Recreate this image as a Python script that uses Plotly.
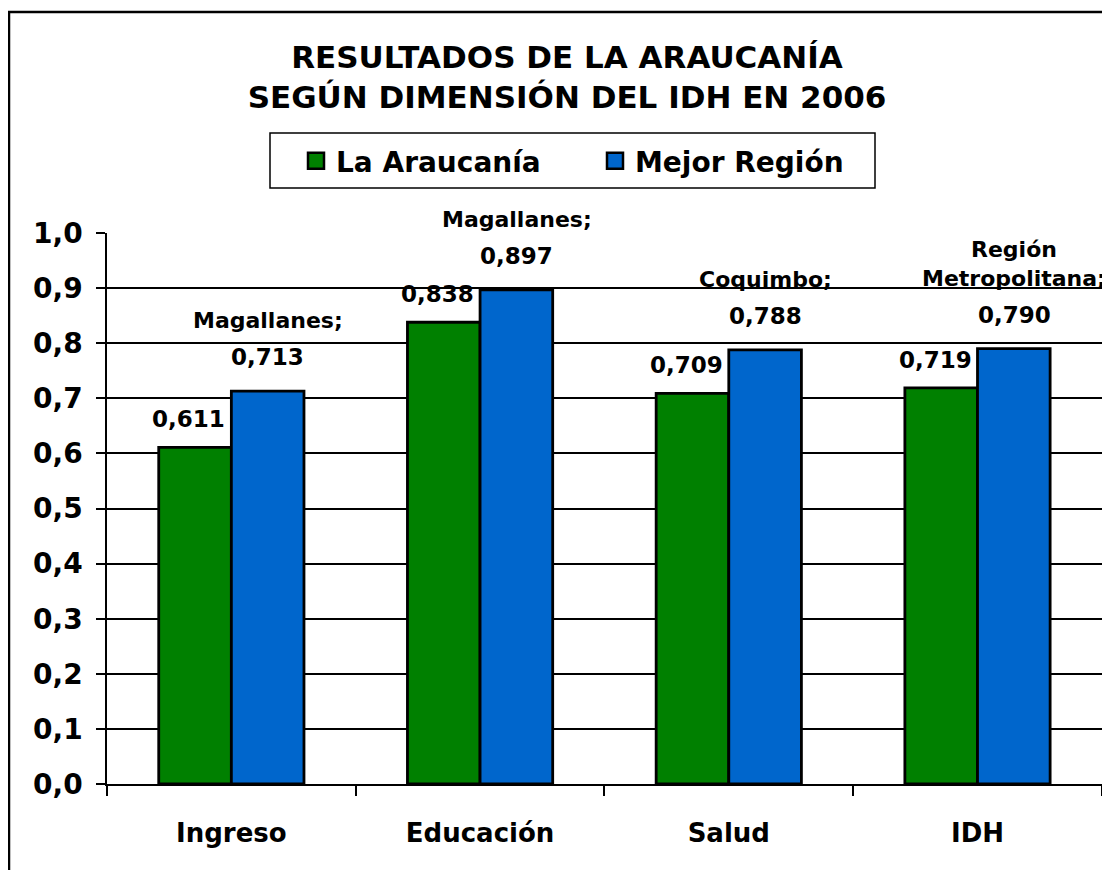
import plotly.graph_objects as go

categories = ["Ingreso", "Educación", "Salud", "IDH"]
araucania = [0.611, 0.838, 0.709, 0.719]
mejor = [0.713, 0.897, 0.788, 0.790]
mejor_nombre = ["Magallanes;", "Magallanes;", "Coquimbo;", "Región<br>Metropolitana;"]
y_ticks = [0.0, 0.1, 0.2, 0.3, 0.4, 0.5, 0.6, 0.7, 0.8, 0.9, 1.0]
y_ticklabels = ["0,0", "0,1", "0,2", "0,3", "0,4", "0,5", "0,6", "0,7", "0,8", "0,9", "1,0"]
series_names = ["La Araucanía", "Mejor Región"]

GREEN = "#008000"
BLUE = "#0066CC"
FONT = "DejaVu Sans"

W, H = 1102, 862
L, R, T, B = 99, 2, 225, 86
PW, PH = W - L - R, H - T - B

def px(xp):
    return (xp - L) / PW

def py(yp):
    return 1 + (T - yp) / PH

def fmt(v):
    return f"{v:.3f}".replace(".", ",")

fig = go.Figure()
for name, vals, col in [(series_names[0], araucania, GREEN), (series_names[1], mejor, BLUE)]:
    fig.add_trace(go.Bar(
        x=categories, y=vals, name=name, showlegend=False,
        marker=dict(color=col, line=dict(color="black", width=2.8)),
    ))
    fig.add_trace(go.Scatter(
        x=[None], y=[None], mode="markers", name=name,
        marker=dict(symbol="square", size=16, color=col, line=dict(color="black", width=2.5)),
    ))

lab_font = dict(family=FONT, size=23, color="black", weight="bold")
name_font = dict(family=FONT, size=22, color="black", weight="bold")
annotations = []
for c, v in zip(categories, araucania):
    annotations.append(dict(x=c, y=v, xref="x", yref="y", text=fmt(v), showarrow=False,
                            xshift=-42.5, yshift=28, yanchor="middle", font=lab_font))
for c, v, n in zip(categories, mejor, mejor_nombre):
    annotations.append(dict(x=c, y=v, xref="x", yref="y", text=fmt(v), showarrow=False,
                            xshift=36.5, yshift=34, yanchor="middle", font=lab_font))
    annotations.append(dict(x=c, y=v, xref="x", yref="y", text=n, showarrow=False,
                            xshift=36.5, yshift=56, yanchor="bottom", font=name_font))

fig.update_layout(
    width=W, height=H,
    margin=dict(l=L, r=R, t=T, b=B, autoexpand=False),
    paper_bgcolor="white", plot_bgcolor="white",
    barmode="group", bargap=0.416, bargroupgap=0.0,
    title=dict(text="RESULTADOS DE LA ARAUCANÍA<br>SEGÚN DIMENSIÓN DEL IDH EN 2006",
               x=559 / W, xanchor="center", xref="container",
               y=1 - 60 / H, yanchor="top", yref="container",
               font=dict(family=FONT, size=31, color="black", weight="bold")),
    legend=dict(orientation="h", x=px(288), xanchor="left",
                y=py(128), yanchor="top",
                borderwidth=0, bgcolor="rgba(0,0,0,0)",
                entrywidth=254, entrywidthmode="pixels",
                font=dict(family=FONT, size=28, color="black", weight="bold"),
                itemclick=False),
    xaxis=dict(type="category", showline=True, linecolor="black", linewidth=1.5,
               ticks="outside", tickson="boundaries", ticklen=10, tickcolor="black", tickwidth=1.5,
               showgrid=False, ticklabelstandoff=25,
               tickfont=dict(family=FONT, size=26, color="black", weight="bold")),
    yaxis=dict(range=[0, 1], tickvals=y_ticks, ticktext=y_ticklabels,
               showline=True, linecolor="black", linewidth=1.5, mirror=True,
               ticks="outside", ticklen=9, tickcolor="black", tickwidth=1.5,
               showgrid=True, gridcolor="black", gridwidth=1.5, zeroline=False,
               ticklabelstandoff=8,
               tickfont=dict(family=FONT, size=28, color="black", weight="bold")),
    annotations=annotations,
    shapes=[
        dict(type="rect", xref="paper", yref="paper",
             x0=px(1), x1=1.1, y0=-0.3, y1=py(4),
             line=dict(color="black", width=2.5), fillcolor="rgba(0,0,0,0)", layer="below"),
        dict(type="rect", xref="paper", yref="paper",
             x0=px(262), x1=px(867), y0=py(180), y1=py(125),
             line=dict(color="black", width=1.5), fillcolor="rgba(0,0,0,0)", layer="below"),
    ],
)

fig.write_html("out.html")
